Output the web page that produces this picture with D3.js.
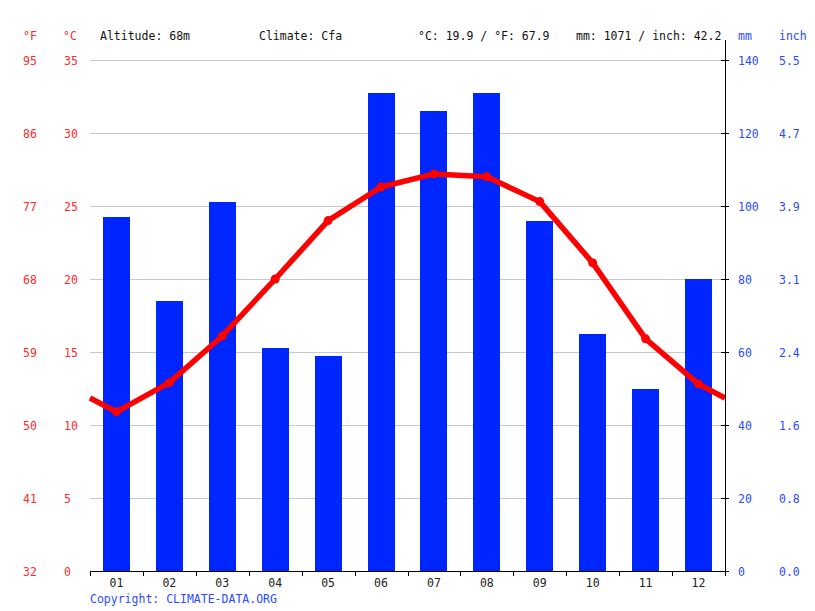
<!DOCTYPE html>
<html>
<head>
<meta charset="utf-8">
<script src="https://cdn.jsdelivr.net/npm/d3@7"></script>
<style>
  body { margin: 0; background: #fff; }
  svg text { font-family: "DejaVu Sans Mono", monospace; font-size: 11.5px; }
</style>
</head>
<body>
<div id="chart"></div>
<script>
// data
const months = ['01', '02', '03', '04', '05', '06', '07', '08', '09', '10', '11', '12'];
const precipMm = [97, 74, 101, 61, 59, 131, 126, 131, 96, 65, 50, 80];
const tempC = [10.9, 12.9, 16.1, 20.0, 24.0, 26.3, 27.2, 27.0, 25.3, 21.1, 15.9, 12.8];

const celsiusTicks = [0, 5, 10, 15, 20, 25, 30, 35];
const fahrenheitLabels = ['32', '41', '50', '59', '68', '77', '86', '95'];
const mmTicks = [0, 20, 40, 60, 80, 100, 120, 140];
const inchLabels = ['0.0', '0.8', '1.6', '2.4', '3.1', '3.9', '4.7', '5.5'];

const headerTexts = [
  { x: 100, t: 'Altitude: 68m' },
  { x: 259, t: 'Climate: Cfa' },
  { x: 418, t: '°C: 19.9 / °F: 67.9' },
  { x: 576, t: 'mm: 1071 / inch: 42.2' }
];

const W = 815, H = 611;
const margin = { top: 60, right: 90, bottom: 40, left: 90 };
const width = W - margin.left - margin.right;
const height = H - margin.top - margin.bottom;

const RED = '#ff0000', BLUE = '#0026ff', LBLUE = '#2a4bff', LRED = '#ff2a2a';

const svg = d3.select('#chart').append('svg')
  .attr('width', W)
  .attr('height', H);

const chart = svg.append('g')
  .attr('transform', `translate(${margin.left},${margin.top})`);

// scales
const x = d3.scaleBand().domain(months).range([0, width]).paddingInner(0.49).paddingOuter(0.245);
const xBand = d3.scaleBand().domain(months).range([0, width]);
const yT = d3.scaleLinear().domain([0, 35]).range([height, 0]);
const yP = d3.scaleLinear().domain([0, 140]).range([height, 0]);

// grid lines
chart.append('g')
  .selectAll('line')
  .data(celsiusTicks.slice(1))
  .join('line')
  .attr('x1', 0).attr('x2', width)
  .attr('y1', d => yT(d)).attr('y2', d => yT(d))
  .attr('stroke', '#c8c8c8')
  .attr('stroke-width', 1)
  .attr('shape-rendering', 'crispEdges');

// bars
chart.append('g')
  .selectAll('rect')
  .data(precipMm)
  .join('rect')
  .attr('x', (d, i) => x(months[i]))
  .attr('width', x.bandwidth())
  .attr('y', d => yP(d))
  .attr('height', d => height - yP(d))
  .attr('fill', BLUE)
  .attr('shape-rendering', 'crispEdges');

// temperature line, continued to the edges with the Dec/Jan average
const edge = (tempC[0] + tempC[11]) / 2;
const linePts = [[0, yT(edge)]]
  .concat(tempC.map((d, i) => [xBand(months[i]) + xBand.bandwidth() / 2, yT(d)]))
  .concat([[width, yT(edge)]]);

chart.append('path')
  .attr('d', d3.line()(linePts))
  .attr('fill', 'none')
  .attr('stroke', RED)
  .attr('stroke-width', 5.5)
  .attr('stroke-linejoin', 'round');

chart.append('g')
  .selectAll('circle')
  .data(tempC)
  .join('circle')
  .attr('cx', (d, i) => xBand(months[i]) + xBand.bandwidth() / 2)
  .attr('cy', d => yT(d))
  .attr('r', 4.5)
  .attr('fill', RED);

// bottom axis
const xAxisG = chart.append('g').attr('transform', `translate(0,${height})`);
xAxisG.append('line')
  .attr('x1', 0).attr('x2', width + 4)
  .attr('y1', 0.5).attr('y2', 0.5)
  .attr('stroke', '#000');
xAxisG.selectAll('.tick')
  .data(months.map((m, i) => i).concat([12]))
  .join('line')
  .attr('x1', d => Math.round(d * xBand.step()) + 0.5)
  .attr('x2', d => Math.round(d * xBand.step()) + 0.5)
  .attr('y1', 0).attr('y2', 5)
  .attr('stroke', '#000');
xAxisG.selectAll('text')
  .data(months)
  .join('text')
  .attr('x', d => xBand(d) + xBand.bandwidth() / 2)
  .attr('y', 16)
  .attr('text-anchor', 'middle')
  .attr('fill', '#222')
  .text(d => d);

// right axis
const rAxisG = chart.append('g').attr('transform', `translate(${width},0)`);
rAxisG.append('line')
  .attr('x1', 0.5).attr('x2', 0.5)
  .attr('y1', -20).attr('y2', height)
  .attr('stroke', '#000');
rAxisG.selectAll('.rt')
  .data(mmTicks)
  .join('line')
  .attr('class', 'rt')
  .attr('x1', -4).attr('x2', 4)
  .attr('y1', d => Math.round(yP(d)) + 0.5)
  .attr('y2', d => Math.round(yP(d)) + 0.5)
  .attr('stroke', '#000');
rAxisG.selectAll('.mm')
  .data(mmTicks)
  .join('text')
  .attr('class', 'mm')
  .attr('x', 13)
  .attr('y', d => yP(d) + 5)
  .attr('fill', LBLUE)
  .text(d => d);
rAxisG.selectAll('.inch')
  .data(mmTicks)
  .join('text')
  .attr('class', 'inch')
  .attr('x', 54)
  .attr('y', d => yP(d) + 5)
  .attr('fill', LBLUE)
  .text((d, i) => inchLabels[i]);

// left labels
chart.selectAll('.c')
  .data(celsiusTicks)
  .join('text')
  .attr('class', 'c')
  .attr('x', -26)
  .attr('y', d => yT(d) + 5)
  .attr('fill', LRED)
  .text(d => d);
chart.selectAll('.f')
  .data(celsiusTicks)
  .join('text')
  .attr('class', 'f')
  .attr('x', -67)
  .attr('y', d => yT(d) + 5)
  .attr('fill', LRED)
  .text((d, i) => fahrenheitLabels[i]);

// header
svg.append('text').attr('x', 23).attr('y', 40).attr('fill', LRED).text('°F');
svg.append('text').attr('x', 63).attr('y', 40).attr('fill', LRED).text('°C');
svg.append('text').attr('x', 738).attr('y', 40).attr('fill', LBLUE).text('mm');
svg.append('text').attr('x', 779).attr('y', 40).attr('fill', LBLUE).text('inch');
svg.selectAll('.hd')
  .data(headerTexts)
  .join('text')
  .attr('class', 'hd')
  .attr('x', d => d.x)
  .attr('y', 40)
  .attr('fill', '#111')
  .text(d => d.t);

svg.append('text')
  .attr('x', 90).attr('y', 603)
  .attr('fill', LBLUE)
  .text('Copyright: CLIMATE-DATA.ORG');
</script>
</body>
</html>
